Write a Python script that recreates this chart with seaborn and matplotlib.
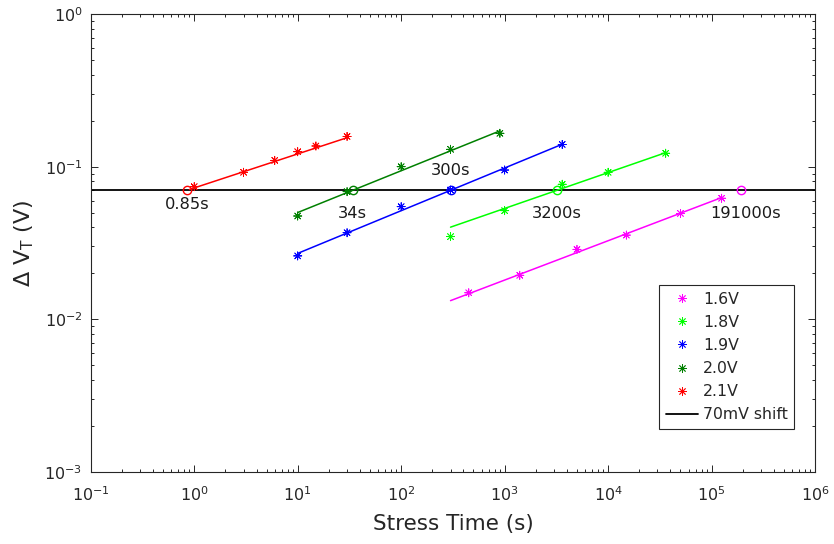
import numpy as np
import pandas as pd
import matplotlib
matplotlib.use("Agg")
import matplotlib.pyplot as plt
import seaborn as sns
from matplotlib.lines import Line2D
from matplotlib.ticker import NullFormatter, LogLocator, FixedLocator

# ---- measured threshold-voltage shift vs. stress time, per stress voltage ----
voltages = ["1.6V", "1.8V", "1.9V", "2.0V", "2.1V"]
colors = ["#ff00ff", "#00ff00", "#0000ff", "#008000", "#ff0000"]

t_16 = [450, 1400, 5000, 15000, 50000, 125000]
dv_16 = [0.0149, 0.0194, 0.0287, 0.0356, 0.0494, 0.0621]

t_18 = [300, 1000, 3600, 10000, 36000]
dv_18 = [0.0348, 0.0515, 0.0767, 0.0919, 0.1225]

t_19 = [10, 30, 100, 300, 1000, 3600]
dv_19 = [0.0260, 0.0369, 0.0547, 0.0703, 0.0951, 0.140]

t_20 = [10, 30, 100, 300, 900]
dv_20 = [0.0475, 0.0686, 0.100, 0.130, 0.1656]

t_21 = [1, 3, 6, 10, 15, 30]
dv_21 = [0.074, 0.0919, 0.110, 0.1254, 0.1367, 0.158]

stress_times = [t_16, t_18, t_19, t_20, t_21]
delta_vt = [dv_16, dv_18, dv_19, dv_20, dv_21]

# ---- power-law fits: dVT = shift * (t / t_fail) ** n ----
shift = 0.07  # 70 mV failure criterion
failure_times = [191000, 3200, 300, 34, 0.85]
failure_labels = ["191000s", "3200s", "300s", "34s", "0.85s"]
exponents = [0.258, 0.235, 0.28, 0.274, 0.223]
fit_start = [300, 300, 10, 10, 0.9]

# axis decades
x_decades = [1e-1, 1e0, 1e1, 1e2, 1e3, 1e4, 1e5, 1e6]
y_decades = [1e-3, 1e-2, 1e-1, 1e0]

# label placement around each crossing point, in pixels
label_offsets = [(5, -23), (0, -23), (0, 19.5), (0, -23), (0, -14)]

points = pd.DataFrame({
    "t": np.concatenate(stress_times),
    "dvt": np.concatenate(delta_vt),
    "voltage": np.repeat(voltages, [len(t) for t in stress_times]),
})

fit_rows = []
for v, tf, n, t0, ts in zip(voltages, failure_times, exponents, fit_start, stress_times):
    tt = np.logspace(np.log10(t0), np.log10(max(ts)), 60)
    fit_rows.append(pd.DataFrame({"t": tt, "dvt": shift * (tt / tf) ** n, "voltage": v}))
fits = pd.concat(fit_rows, ignore_index=True)

palette = dict(zip(voltages, colors))
star = (8, 2, 0)

sns.set_style("ticks")
plt.rcParams["font.family"] = ["DejaVu Sans"]
plt.rcParams["mathtext.fontset"] = "dejavusans"
dark = (0.15, 0.15, 0.15)

fig = plt.figure(figsize=(8.34, 5.44), dpi=100)
ax = fig.add_axes([0.1088, 0.1329, 0.8685, 0.8410])

sns.lineplot(data=fits, x="t", y="dvt", hue="voltage", palette=palette,
             estimator=None, sort=False, linewidth=1.1, legend=False, ax=ax)
ax.axhline(shift, color="black", linewidth=1.3, zorder=1)
sns.scatterplot(data=points, x="t", y="dvt", hue="voltage", palette=palette,
                marker=star, s=34, linewidth=0.6, legend=False, ax=ax, zorder=3)

for tf, c, lab, off in zip(failure_times, colors, failure_labels, label_offsets):
    ax.plot([tf], [shift], "o", mfc="none", mec=c, ms=6, mew=1.0, zorder=4)
    ax.annotate(lab, (tf, shift), xytext=off, textcoords="offset pixels",
                ha="center", va="center", fontsize=11.7, color="#1a1a1a")

ax.set_xscale("log")
ax.set_yscale("log")
ax.set_xlim(x_decades[0], x_decades[-1])
ax.set_ylim(y_decades[0], y_decades[-1])
ax.xaxis.set_major_locator(FixedLocator(x_decades))
ax.yaxis.set_major_locator(FixedLocator(y_decades))
ax.xaxis.set_minor_locator(LogLocator(base=10, subs=np.arange(2, 10), numticks=20))
ax.xaxis.set_minor_formatter(NullFormatter())
ax.yaxis.set_minor_formatter(NullFormatter())

for s in ax.spines.values():
    s.set_visible(True)
    s.set_color(dark)
    s.set_linewidth(0.8)
ax.tick_params(which="both", direction="in", top=True, right=True,
               color=dark, width=0.7, labelcolor=dark, labelsize=11.5)
ax.tick_params(which="major", length=5)
ax.tick_params(which="minor", length=2.5)
ax.tick_params(axis="x", pad=10)
ax.tick_params(axis="y", pad=6)

ax.set_xlabel("Stress Time (s)", fontsize=15.5, color=dark, labelpad=7)
ax.set_ylabel("Δ V$_\\mathregular{T}$ (V)", fontsize=16, color=dark, labelpad=6)

handles = [Line2D([], [], linestyle="none", marker=star, color=c, markersize=6,
                  markeredgewidth=0.6, label=v)
           for v, c in zip(voltages, colors)]
handles.append(Line2D([], [], color="black", linewidth=1.3, label="70mV shift"))
leg = ax.legend(handles=handles, loc="upper left", bbox_to_anchor=(0.785, 0.408),
                borderaxespad=0, fontsize=11.3, frameon=True, fancybox=False,
                framealpha=1, edgecolor=dark, labelspacing=0.52,
                handlelength=2.05, handletextpad=0.3, borderpad=0.42)
leg.get_frame().set_linewidth(0.8)

fig.savefig("out.png", dpi=100, facecolor="white")
